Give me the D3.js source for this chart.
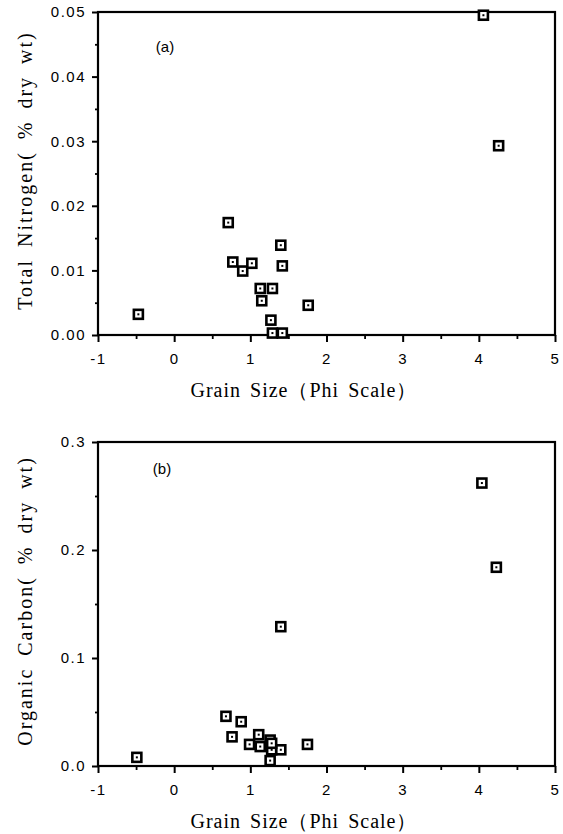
<!DOCTYPE html>
<html>
<head>
<meta charset="utf-8">
<script src="https://cdn.jsdelivr.net/npm/d3@7"></script>
<style>
  html, body { margin: 0; padding: 0; background: #fff; }
  svg { display: block; }
  .tick text { font-family: "Liberation Sans", Arial, sans-serif; font-size: 15px; letter-spacing: 1.5px; fill: #000; }
  .title { font-family: "Liberation Serif", "Times New Roman", serif; font-size: 20px; fill: #000; }
  .panel { font-family: "Liberation Sans", Arial, sans-serif; font-size: 15px; fill: #000; }
</style>
</head>
<body>
<svg id="chart" width="563" height="834"></svg>
<script>
// ---------- data ----------
const xTicks = [-1, 0, 1, 2, 3, 4, 5];
const nitrogenTicks = [0, 0.01, 0.02, 0.03, 0.04, 0.05];
const carbonTicks = [0, 0.1, 0.2, 0.3];

// Panel (a): grain size (phi) vs total nitrogen (% dry wt)
const nitrogenPhi   = [0.71, 1.40, 0.77, 0.90, 1.02, 1.42, 1.13, 1.29, 1.15, 1.76, -0.47, 1.27, 1.29, 1.42, 4.06, 4.26];
const nitrogenValue = [0.0174, 0.0139, 0.0113, 0.0099, 0.0111, 0.0107, 0.0072, 0.0072, 0.0053, 0.0046, 0.0032, 0.0023, 0.0003, 0.0003, 0.0495, 0.0293];

// Panel (b): grain size (phi) vs organic carbon (% dry wt)
const carbonPhi   = [0.68, 0.88, 0.76, 1.11, 1.26, 0.99, 1.13, 1.28, 1.40, 1.75, -0.49, 1.26, 1.28, 1.40, 4.04, 4.23];
const carbonValue = [0.046, 0.041, 0.027, 0.029, 0.024, 0.020, 0.018, 0.015, 0.015, 0.020, 0.008, 0.005, 0.021, 0.129, 0.262, 0.184];

// ---------- drawing ----------
const svg = d3.select("#chart");
const left = 98, right = 555;

function panel(cfg) {
  const x = d3.scaleLinear().domain([-1, 5]).range([left, right]);
  const y = d3.scaleLinear().domain(cfg.yDomain).range([cfg.bottom, cfg.top]);
  const g = svg.append("g");

  // minor ticks
  const xMinor = d3.range(-0.5, 5, 1);
  g.append("g").attr("transform", `translate(0,${cfg.bottom})`)
    .call(d3.axisBottom(x).tickValues(xMinor).tickSize(4).tickFormat(""))
    .call(a => a.select(".domain").remove())
    .selectAll("line").attr("stroke", "#000").attr("stroke-width", 1.8);
  const yMinor = cfg.yTicks.slice(1).map((v, i) => (v + cfg.yTicks[i]) / 2);
  g.append("g").attr("transform", `translate(${left},0)`)
    .call(d3.axisLeft(y).tickValues(yMinor).tickSize(3).tickFormat(""))
    .call(a => a.select(".domain").remove())
    .selectAll("line").attr("stroke", "#000").attr("stroke-width", 1.8);

  // major x axis
  g.append("g").attr("transform", `translate(0,${cfg.bottom})`)
    .call(d3.axisBottom(x).tickValues(xTicks).tickSize(7).tickPadding(11).tickFormat(d => String(d)))
    .call(a => a.select(".domain").remove())
    .call(a => a.selectAll("line").attr("stroke", "#000").attr("stroke-width", 2));
  // major y axis
  g.append("g").attr("transform", `translate(${left},0)`)
    .call(d3.axisLeft(y).tickValues(cfg.yTicks).tickSize(6).tickPadding(6).tickFormat(d3.format(cfg.fmt)))
    .call(a => a.select(".domain").remove())
    .call(a => a.selectAll("line").attr("stroke", "#000").attr("stroke-width", 2));

  // frame
  g.append("rect")
    .attr("x", x(-1)).attr("y", y(cfg.yDomain[1]))
    .attr("width", x(5) - x(-1)).attr("height", y(cfg.yDomain[0]) - y(cfg.yDomain[1]))
    .attr("fill", "none").attr("stroke", "#000").attr("stroke-width", 2.2);

  // markers
  const pts = cfg.phi.map((p, i) => [p, cfg.val[i]]);
  const m = g.append("g").selectAll("g").data(pts).join("g")
    .attr("transform", d => `translate(${x(d[0])},${y(d[1])})`);
  m.append("rect").attr("x", -4.5).attr("y", -4.5).attr("width", 9).attr("height", 9)
    .attr("fill", "#fff").attr("stroke", "#000").attr("stroke-width", 2.6);
  m.append("rect").attr("x", -1).attr("y", -1).attr("width", 2).attr("height", 2).attr("fill", "#000");

  // panel label
  g.append("text").attr("class", "panel").attr("x", cfg.labelX).attr("y", cfg.labelY)
    .attr("text-anchor", "middle").attr("dominant-baseline", "central").text(cfg.label);

  // axis titles
  g.append("text").attr("class", "title")
    .attr("x", 304).attr("y", cfg.bottom + 62)
    .attr("text-anchor", "middle")
    .attr("letter-spacing", "1px").attr("word-spacing", "3px")
    .text("Grain Size（Phi Scale）");
  g.append("text").attr("class", "title")
    .attr("transform", `translate(25,${(cfg.top + cfg.bottom) / 2 - 3}) rotate(-90)`)
    .attr("text-anchor", "middle").attr("dominant-baseline", "central")
    .attr("letter-spacing", "2px").attr("word-spacing", "5px")
    .text(cfg.yTitle);
}

panel({
  top: 12, bottom: 335, yDomain: [0, 0.05], yTicks: nitrogenTicks, fmt: ".2f",
  phi: nitrogenPhi, val: nitrogenValue, label: "(a)", labelX: 165, labelY: 46,
  yTitle: "Total Nitrogen( % dry wt)"
});
panel({
  top: 442, bottom: 766, yDomain: [0, 0.3], yTicks: carbonTicks, fmt: ".1f",
  phi: carbonPhi, val: carbonValue, label: "(b)", labelX: 162, labelY: 468,
  yTitle: "Organic Carbon( % dry wt)"
});
</script>
</body>
</html>
